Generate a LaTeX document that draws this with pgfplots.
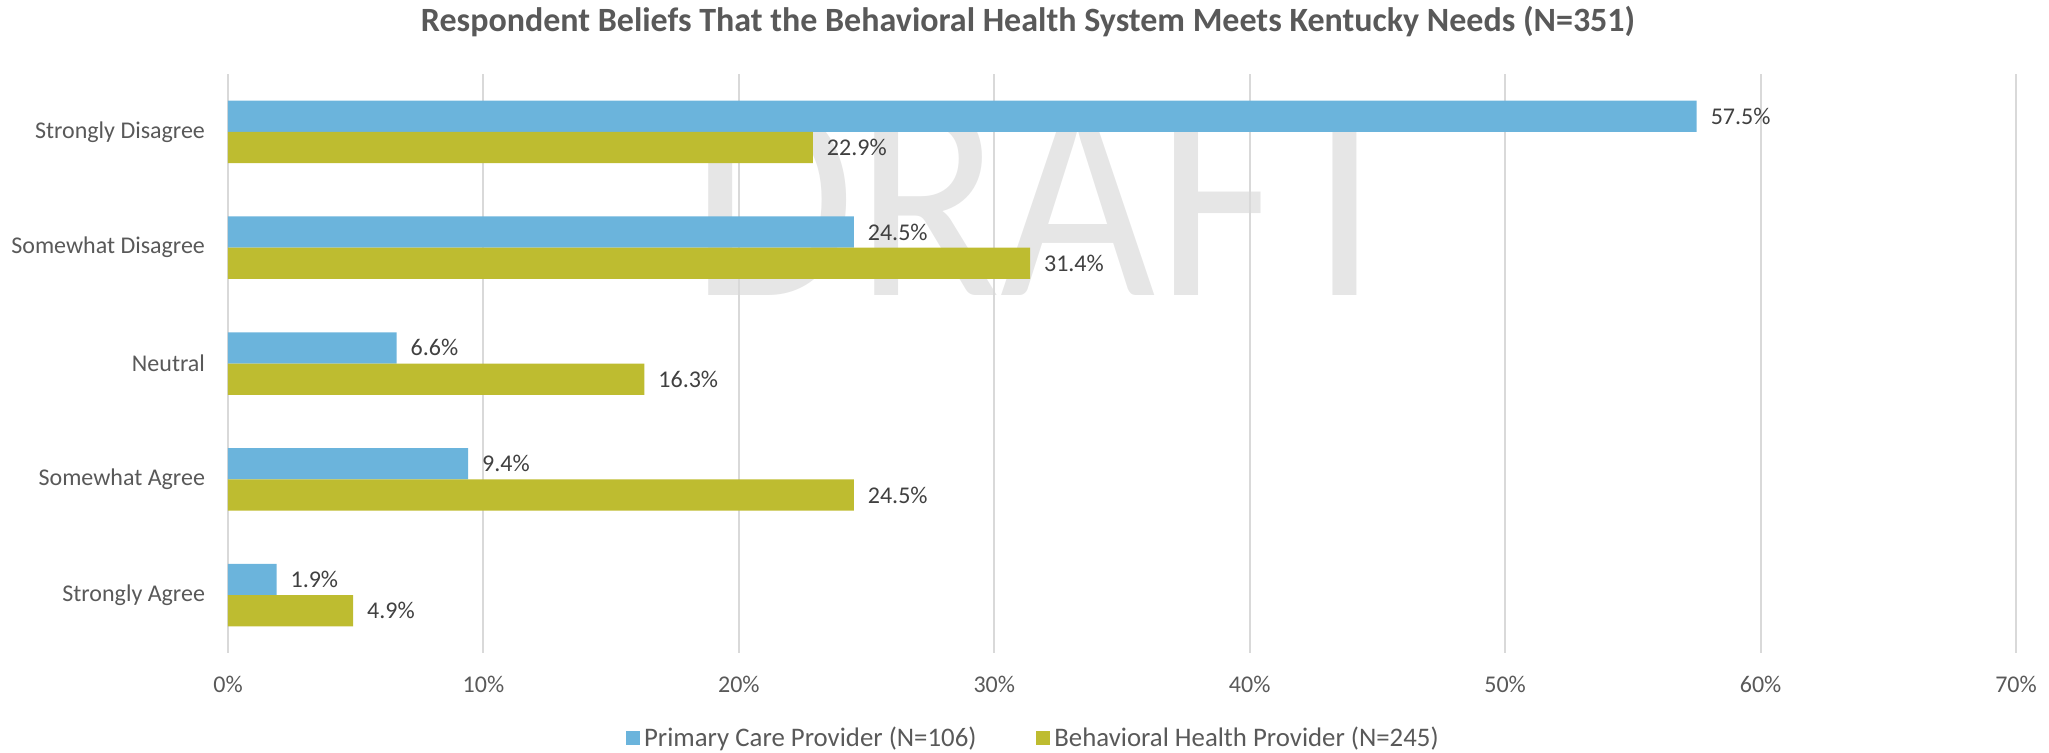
\documentclass[border=0pt]{standalone}
\usepackage{pgfplots}
\pgfplotsset{compat=1.18}
\usepackage{fontspec}
\setmainfont{Carlito}
\definecolor{pcblue}{HTML}{6BB4DC}
\definecolor{bholive}{HTML}{BEBC30}
\definecolor{txt}{HTML}{595959}
\definecolor{lbl}{HTML}{404040}
\definecolor{gridc}{HTML}{D9D9D9}
\definecolor{wm}{HTML}{E6E6E6}
\begin{document}
\begin{tikzpicture}
\path[use as bounding box] (-114pt,-49.5pt) rectangle (910.5pt,326.5pt);
\node[text=wm, font=\fontsize{149}{149}\selectfont, xscale=0.9, inner sep=0pt] at (411pt,226.5pt) {DRAFT};
\node[text=txt, font=\fontsize{17}{20}\selectfont\bfseries] at (400pt,315.5pt) {Respondent Beliefs That the Behavioral Health System Meets Kentucky Needs (N=351)};
\begin{axis}[
  scale only axis, width=894pt, height=289.5pt,
  at={(0,0)}, anchor=south west,
  xbar, xmin=0, xmax=70, ymin=-0.5, ymax=4.5, y dir=reverse,
  bar width=0.27,
  ytick={0,1,2,3,4},
  yticklabels={Strongly Disagree, Somewhat Disagree, Neutral, Somewhat Agree, Strongly Agree},
  xtick={0,10,...,70},
  xticklabel={\pgfmathprintnumber{\tick}\%},
  /pgf/number format/assume math mode=true,
  xmajorgrids, major grid style={gridc, line width=1pt},
  axis line style={draw=none}, major tick length=0pt,
  tick label style={text=txt, font=\fontsize{12}{14}\selectfont},
  xticklabel style={yshift=-8pt},
  yticklabel style={xshift=-8pt},
  nodes near coords={\pgfmathprintnumber[fixed, fixed zerofill, precision=1]{\pgfplotspointmeta}\%},
  nodes near coords style={text=lbl, font=\fontsize{12}{14}\selectfont, anchor=west, xshift=3.5pt},
  legend columns=2,
  legend style={draw=none, fill=none, at={(0.451,-0.1468)}, anchor=center,
    font=\fontsize{13.4}{15}\selectfont, text=txt,
    /tikz/every even column/.append style={column sep=28pt}},
  legend image code/.code={\fill[#1] (0pt,-3.5pt) rectangle (7pt,3.5pt);},
]
\addplot[fill=pcblue, draw=none, bar shift=-0.135] coordinates {(57.5,0) (24.5,1) (6.6,2) (9.4,3) (1.9,4)};
\addlegendentry{Primary Care Provider (N=106)}
\addplot[fill=bholive, draw=none, bar shift=0.135] coordinates {(22.9,0) (31.4,1) (16.3,2) (24.5,3) (4.9,4)};
\addlegendentry{Behavioral Health Provider (N=245)}
\end{axis}
\end{tikzpicture}
\end{document}
